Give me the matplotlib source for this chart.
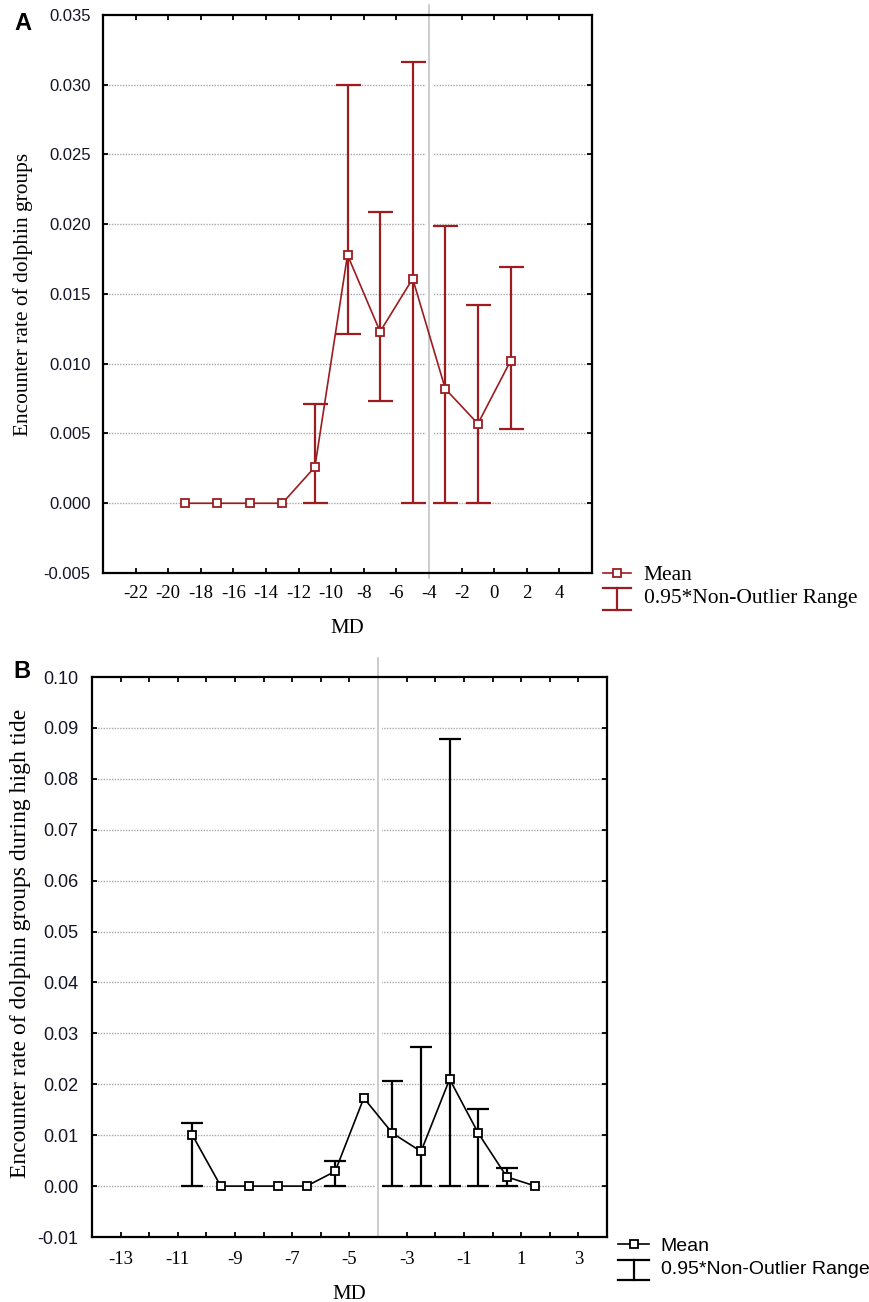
import numpy as np
import matplotlib
matplotlib.use("Agg")
import matplotlib.pyplot as plt
from matplotlib.lines import Line2D
from matplotlib.legend_handler import HandlerBase
from matplotlib.ticker import MultipleLocator, FormatStrFormatter
import matplotlib.patheffects as pe

plt.rcParams["axes.unicode_minus"] = False

# panel A: all tides
md_a = [-19, -17, -15, -13, -11, -9, -7, -5, -3, -1, 1]
mean_a = [0.0, 0.0, 0.0, 0.0, 0.0026, 0.0178, 0.0123, 0.0161, 0.0082, 0.0057, 0.0102]
low_a = [None, None, None, None, 0.0, 0.0121, 0.0073, 0.0, 0.0, 0.0, 0.0053]
high_a = [None, None, None, None, 0.0071, 0.0300, 0.0209, 0.0316, 0.0199, 0.0142, 0.0169]
xticks_a = list(range(-22, 5, 2))

# panel B: high tide
md_b = [-10.5, -9.5, -8.5, -7.5, -6.5, -5.5, -4.5, -3.5, -2.5, -1.5, -0.5, 0.5, 1.5]
mean_b = [0.0101, 0.0, 0.0, 0.0, 0.0, 0.0029, 0.0173, 0.0104, 0.0068, 0.0210, 0.0104, 0.0018, 0.0]
low_b = [0.0, None, None, None, None, 0.0, None, 0.0, 0.0, 0.0, 0.0, 0.0, None]
high_b = [0.0123, None, None, None, None, 0.0050, None, 0.0206, 0.0274, 0.0878, 0.0151, 0.0036, None]

ylabel_a = "Encounter rate of dolphin groups"
ylabel_b = "Encounter rate of dolphin groups during high tide"
leg_labels = ["Mean", "0.95*Non-Outlier Range"]

RED = "#9c1c20"
SERIF = "Liberation Serif"
SANS = "Liberation Sans"


class HandlerRange(HandlerBase):
    def create_artists(self, legend, orig_handle, xd, yd, width, height, fontsize, trans):
        c = orig_handle.get_color()
        lw = orig_handle.get_linewidth()
        x0 = -xd
        x1 = -xd + width
        xm = (x0 + x1) / 2
        y1 = -yd + height * 1.0
        y0 = -yd - height * 0.45
        arts = [Line2D([x0, x1], [y1, y1]), Line2D([xm, xm], [y0, y1]), Line2D([x0, x1], [y0, y0])]
        for a in arts:
            a.set_color(c)
            a.set_linewidth(lw)
            a.set_transform(trans)
        return arts


def draw_panel(ax, x, m, lo, hi, color, capsize, xlim, ylim, ystep, yfmt, vline_ext):
    for xi, mi, l, h in zip(x, m, lo, hi):
        if l is None:
            continue
        ax.errorbar([xi], [mi], yerr=[[mi - l], [h - mi]], fmt="none", ecolor=color,
                    elinewidth=1.6, capsize=capsize, capthick=1.6, zorder=2)
    ax.plot(x, m, color=color, lw=1.2, marker="s", ms=6, mfc="white", mec=color, mew=1.3, zorder=3)
    ax.set_xlim(*xlim)
    ax.set_ylim(*ylim)
    ax.yaxis.set_major_locator(MultipleLocator(ystep))
    ax.yaxis.set_major_formatter(FormatStrFormatter(yfmt))
    for yv in np.arange(ylim[0] + ystep, ylim[1] - ystep / 2, ystep):
        ax.axhline(yv, color="#a8a8a8", lw=1.0, ls=(0, (1, 1)), zorder=1)
    ax.axvline(-4, ymin=vline_ext[0], ymax=vline_ext[1], color="#c4c4c4", lw=1.2, clip_on=False,
               zorder=2.3, path_effects=[pe.Stroke(linewidth=5, foreground="white"), pe.Normal()])
    for s in ax.spines.values():
        s.set_linewidth(1.6)
        s.set_zorder(2.5)
    ax.tick_params(which="both", direction="in", top=True, right=True, length=3.5, width=1.3)


fig = plt.figure(figsize=(8.69, 13.02), dpi=100)

# ---------- A
axA = fig.add_axes([103 / 869, 1 - 573 / 1302, 489 / 869, 558 / 1302])
draw_panel(axA, md_a, mean_a, low_a, high_a, RED, 9, (-24, 6), (-0.005, 0.035), 0.005, "%.3f", (-0.009, 1.018))
axA.set_xticks(xticks_a)
axA.tick_params(axis="x", pad=9)
axA.tick_params(axis="y", pad=9)
for t in axA.get_xticklabels():
    t.set_fontfamily(SERIF)
    t.set_fontsize(13.5)
for t in axA.get_yticklabels():
    t.set_fontfamily(SANS)
    t.set_fontsize(12)
    t.set_color("#141428")
axA.text(-0.164, 0.5, ylabel_a, transform=axA.transAxes, rotation=90, ha="center", va="center",
         fontsize=15.4, family=SERIF)
axA.text(0.5, -0.1, "MD", transform=axA.transAxes, ha="center", va="center", fontsize=15, family=SERIF)
fig.text(23 / 869, 1 - 24 / 1302, "A", fontsize=17, fontweight="bold", family=SANS, ha="center", va="center")

hA = [Line2D([], [], color=RED, lw=1.2, marker="s", ms=6, mfc="white", mec=RED, mew=1.3),
      Line2D([], [], color=RED, lw=1.6)]
legA = axA.legend(hA, leg_labels, loc="upper left", bbox_to_anchor=(603 / 869, 1 - 565 / 1302),
                  bbox_transform=fig.transFigure, frameon=False, prop={"family": SERIF, "size": 15.5},
                  handlelength=1.3, handletextpad=0.6, labelspacing=0.15, borderpad=0, borderaxespad=0,
                  handler_map={hA[1]: HandlerRange()})

# ---------- B
axB = fig.add_axes([92 / 869, 1 - 1237 / 1302, 515 / 869, 560 / 1302])
draw_panel(axB, md_b, mean_b, low_b, high_b, "black", 8, (-14, 4), (-0.01, 0.10), 0.01, "%.2f", (0.0, 1.034))
axB.xaxis.set_major_locator(MultipleLocator(2, offset=1))
axB.xaxis.set_minor_locator(MultipleLocator(1))
axB.tick_params(axis="x", pad=10)
axB.tick_params(axis="y", pad=10)
for t in axB.get_xticklabels():
    t.set_fontfamily(SERIF)
    t.set_fontsize(13.5)
for t in axB.get_yticklabels():
    t.set_fontfamily(SANS)
    t.set_fontsize(13)
    t.set_color("#141428")
axB.text(-0.138, 0.525, ylabel_b, transform=axB.transAxes, rotation=90, ha="center", va="center",
         fontsize=17, family=SERIF)
axB.set_xlabel("MD", fontsize=15, family=SERIF, labelpad=12)
fig.text(22 / 869, 1 - 671 / 1302, "B", fontsize=17, fontweight="bold", family=SANS, ha="center", va="center")

hB = [Line2D([], [], color="black", lw=1.2, marker="s", ms=6, mfc="white", mec="black", mew=1.3),
      Line2D([], [], color="black", lw=1.6)]
legB = axB.legend(hB, leg_labels, loc="upper left", bbox_to_anchor=(618 / 869, 1 - 1237 / 1302),
                  bbox_transform=fig.transFigure, frameon=False, prop={"family": SANS, "size": 14},
                  handlelength=1.6, handletextpad=0.6, labelspacing=0.3, borderpad=0, borderaxespad=0,
                  handler_map={hB[1]: HandlerRange()})

fig.savefig("out.png", dpi=100)
